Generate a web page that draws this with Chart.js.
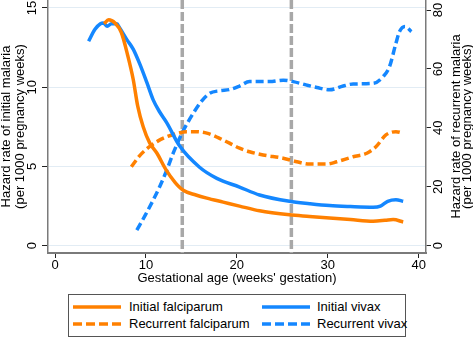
<!DOCTYPE html>
<html>
<head>
<meta charset="utf-8">
<script src="https://cdn.jsdelivr.net/npm/chart.js@4.4.1/dist/chart.umd.min.js"></script>
<style>
  body { margin: 0; background: #fff; font-family: "Liberation Sans", Arial, sans-serif; }
  #wrap { position: absolute; left: 0; top: 0; width: 473px; height: 290px; }
  #legendBox { position: absolute; left: 68px; top: 294px; width: 338px; height: 43px;
               border: 1.5px solid #555; box-sizing: border-box; }
  .lgItem { position: absolute; height: 16px; line-height: 16px; font-size: 13px; color: #000; white-space: nowrap; }
  .lgItem svg { position: absolute; left: 0; top: 6px; }
  .lgItem span { position: absolute; }
</style>
</head>
<body>
<div id="wrap"><canvas id="malariaChart"></canvas></div>
<div id="legendBox"></div>
<div id="legendItems"></div>
<script>
// Tick values
const weekTicks = [0, 10, 20, 30, 40];
const initialTicks = [0, 5, 10, 15];
const recurrentTicks = [0, 20, 40, 60, 80];
const refWeeks = [14, 26];  // dashed reference lines

// Initial falciparum (left axis)
const ifWeeks = [5.4, 5.9, 6.6, 7.3, 8.0, 8.6, 9.1, 9.7, 10.4, 11.2, 12.2, 13.2, 14.1, 15.5, 16.7, 18.5, 20.3, 22.5, 25.8, 28, 30.2, 32.5, 35, 36.3, 37.2, 38.3];
const ifRate = [14.0, 14.25, 14.05, 13.45, 12.0, 10.5, 8.8, 7.5, 6.5, 5.85, 4.8, 4.0, 3.5, 3.2, 3.0, 2.75, 2.5, 2.2, 1.95, 1.85, 1.75, 1.65, 1.55, 1.6, 1.65, 1.5];

// Initial vivax (left axis)
const ivWeeks = [3.7, 4.4, 5.0, 5.3, 5.75, 6.2, 6.8, 7.1, 7.9, 8.6, 9.3, 10.1, 10.8, 11.5, 12.3, 13.7, 15.9, 17.8, 20.3, 22.5, 25.8, 28, 30.2, 32.5, 35, 35.8, 36.6, 37.5, 38.3];
const ivRate = [12.9, 13.65, 14.0, 14.05, 13.85, 14.0, 14.0, 13.75, 13.0, 12.4, 11.5, 10.3, 9.2, 8.45, 7.75, 6.3, 4.95, 4.25, 3.7, 3.2, 2.8, 2.65, 2.53, 2.47, 2.43, 2.5, 2.8, 2.9, 2.8];

// Recurrent falciparum (right axis)
const rfWeeks = [8.4, 9.3, 10.4, 11.3, 12.3, 13.3, 14.5, 15.5, 16.7, 18.0, 19.2, 20.3, 21.4, 22.9, 25.1, 26.6, 28.0, 29.9, 31.0, 32.8, 34.3, 35.3, 36.4, 37.5, 38.3];
const rfRate = [26.8, 30.5, 33.6, 35.5, 37.0, 38.0, 38.7, 38.7, 38.2, 36.6, 34.8, 33.1, 31.9, 30.8, 29.7, 28.5, 27.7, 27.7, 28.5, 30.2, 31.4, 33.6, 37.6, 38.7, 38.2];

// Recurrent vivax (right axis)
const rvWeeks = [9.0, 9.9, 10.8, 11.6, 12.3, 13.0, 14.1, 15.2, 16.1, 17.0, 18.1, 19.2, 20.3, 21.4, 23.6, 25.1, 26.2, 27.7, 28.8, 30.2, 31.7, 32.8, 35.0, 36.1, 36.8, 37.5, 37.9, 38.5, 39.2];
const rvRate = [5.3, 10.2, 15.5, 20.6, 25.7, 31.4, 39.0, 44.9, 49.0, 51.7, 52.6, 53.0, 54.2, 55.7, 55.7, 56.2, 55.7, 54.5, 53.7, 52.9, 54.2, 54.9, 55.1, 57.4, 60.8, 68.7, 72.7, 74.4, 72.7];

const ORANGE = '#ff8000';
const BLUE = '#1487ff';
const FONT = { family: '"Liberation Sans", Arial, sans-serif', size: 13 };

const toPoints = (xs, ys) => xs.map((x, i) => ({ x: x, y: ys[i] }));

function makeSeries(label, xs, ys, color, axis, dash) {
    return {
        label: label,
        data: toPoints(xs, ys),
        yAxisID: axis,
        borderColor: color,
        backgroundColor: color,
        borderWidth: 3.5,
        borderDash: dash,
        pointRadius: 0,
        cubicInterpolationMode: 'monotone',
        fill: false
    };
}

// Dashed grey reference weeks
const refLinesPlugin = {
    id: 'refLines',
    beforeDatasetsDraw(chart) {
        const ctx = chart.ctx;
        const area = chart.chartArea;
        ctx.save();
        ctx.strokeStyle = '#a8a8a8';
        ctx.lineWidth = 3.5;
        ctx.setLineDash([9, 3]);
        refWeeks.forEach(w => {
            const px = chart.scales.x.getPixelForValue(w);
            ctx.beginPath();
            ctx.moveTo(px, area.top);
            ctx.lineTo(px, area.bottom);
            ctx.stroke();
        });
        ctx.restore();
    }
};

// Both y titles read bottom-to-top
const yTitlesPlugin = {
    id: 'yTitles',
    afterDraw(chart) {
        const ctx = chart.ctx;
        const cy = (chart.chartArea.top + chart.chartArea.bottom) / 2;
        const lines = [
            { x: 10, text: 'Hazard rate of initial malaria' },
            { x: 23.5, text: '(per 1000 pregnancy weeks)' },
            { x: 459.5, text: 'Hazard rate of recurrent malaria' },
            { x: 470.5, text: '(per 1000 pregnancy weeks)' }
        ];
        ctx.save();
        ctx.font = FONT.size + 'px ' + FONT.family;
        ctx.fillStyle = '#000';
        ctx.textAlign = 'center';
        ctx.textBaseline = 'alphabetic';
        lines.forEach(l => {
            ctx.save();
            ctx.translate(l.x, cy);
            ctx.rotate(-Math.PI / 2);
            ctx.fillText(l.text, 0, 0);
            ctx.restore();
        });
        ctx.restore();
    }
};

const malariaConfig = {
    type: 'line',
    data: {
        datasets: [
            makeSeries('Initial falciparum', ifWeeks, ifRate, ORANGE, 'y', []),
            makeSeries('Initial vivax', ivWeeks, ivRate, BLUE, 'y', []),
            makeSeries('Recurrent falciparum', rfWeeks, rfRate, ORANGE, 'y1', [8, 4]),
            makeSeries('Recurrent vivax', rvWeeks, rvRate, BLUE, 'y1', [8, 4])
        ]
    },
    options: {
        responsive: true,
        maintainAspectRatio: false,
        animation: false,
        layout: { padding: 0 },
        plugins: {
            legend: { display: false },
            tooltip: { enabled: false }
        },
        scales: {
            x: {
                type: 'linear',
                min: -0.77,
                max: 40.81,
                afterBuildTicks: s => { s.ticks = weekTicks.map(v => ({ value: v })); },
                afterFit: s => { s.height = 37; },
                grid: { drawOnChartArea: false, tickLength: 5, tickColor: '#222', tickWidth: 1 },
                border: { color: '#7a7a7a', width: 2 },
                ticks: { font: FONT, color: '#000', padding: 0, maxRotation: 0 },
                title: {
                    display: true,
                    text: "Gestational age (weeks' gestation)",
                    font: FONT,
                    color: '#000',
                    padding: { top: 0, bottom: 4 }
                }
            },
            y: {
                type: 'linear',
                position: 'left',
                min: -0.46,
                max: 15.5,
                afterBuildTicks: s => { s.ticks = initialTicks.map(v => ({ value: v })); },
                afterFit: s => { s.width = 48; s.paddingTop = 0; s.paddingBottom = 0; },
                grid: { color: '#e2ecf4', lineWidth: 1, tickLength: 6, tickColor: '#222', tickWidth: 1 },
                border: { color: '#7a7a7a', width: 1.5 },
                ticks: { font: FONT, color: '#000', padding: 2, minRotation: 90, maxRotation: 90, crossAlign: 'center' }
            },
            y1: {
                type: 'linear',
                position: 'right',
                min: -2.47,
                max: 83.4,
                afterBuildTicks: s => { s.ticks = recurrentTicks.map(v => ({ value: v })); },
                afterFit: s => { s.width = 47; s.paddingTop = 0; s.paddingBottom = 0; },
                grid: { drawOnChartArea: false, tickLength: 5, tickColor: '#222', tickWidth: 1 },
                border: { color: '#7a7a7a', width: 1.5 },
                ticks: { font: FONT, color: '#000', padding: 0, minRotation: 90, maxRotation: 90, crossAlign: 'center' }
            }
        }
    },
    plugins: [refLinesPlugin, yTitlesPlugin]
};

const malariaChart = new Chart(document.getElementById('malariaChart'), malariaConfig);

// HTML legend, two columns
const legendCols = [{ line: 73, text: 129 }, { line: 262, text: 317 }];
const legendRows = [306.7, 324.3];
const legendHolder = document.getElementById('legendItems');
malariaChart.data.datasets.forEach((ds, i) => {
    const col = legendCols[i % 2];
    const rowY = legendRows[Math.floor(i / 2)];
    const item = document.createElement('div');
    item.className = 'lgItem';
    item.style.left = col.line + 'px';
    item.style.top = (rowY - 8) + 'px';
    const dash = ds.borderDash.length ? 'stroke-dasharray="9 4"' : '';
    item.innerHTML =
        '<svg width="48" height="4"><line x1="0" y1="2" x2="48" y2="2" stroke="' + ds.borderColor +
        '" stroke-width="3.5" ' + dash + '/></svg>' +
        '<span style="left:' + (col.text - col.line) + 'px">' + ds.label + '</span>';
    legendHolder.appendChild(item);
});
</script>
</body>
</html>
